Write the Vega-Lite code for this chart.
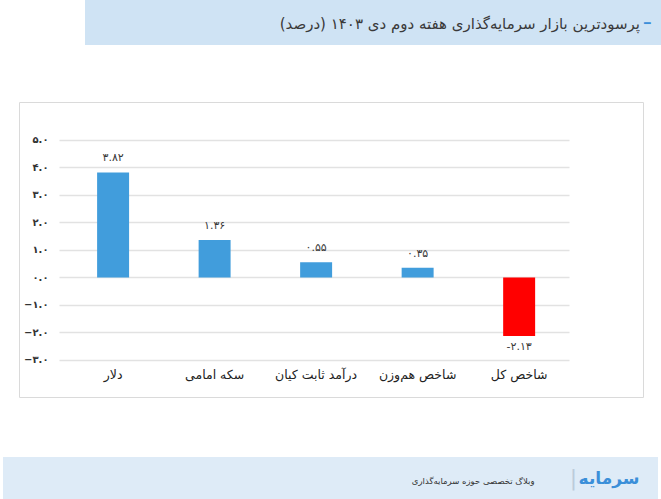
{
  "$schema": "https://vega.github.io/schema/vega-lite/v6.json",
  "padding": 0,
  "spacing": 0,
  "background": "white",
  "config": {
    "view": {"stroke": null},
    "font": "DejaVu Sans",
    "concat": {"spacing": 0}
  },
  "vconcat": [
    {
      "spacing": 0,
      "hconcat": [
        {
          "width": 85, "height": 45,
          "data": {"values": [{}]},
          "mark": {"type": "point", "size": 0, "strokeWidth": 0, "opacity": 0}
        },
        {
          "width": 576, "height": 45,
          "view": {"fill": "#cfe3f4", "stroke": null},
          "data": {"values": [{}]},
          "layer": [
            {
              "mark": {"type": "text", "text": "پرسودترین بازار سرمایه‌گذاری هفته دوم دی ۱۴۰۳ (درصد)", "align": "right", "baseline": "middle", "dx": 267, "dy": 1, "fontSize": 15, "color": "#3a3a3a"}
            },
            {
              "mark": {"type": "text", "text": "━", "align": "left", "baseline": "middle", "dx": 271, "dy": 1, "fontSize": 11, "color": "#3b8fd9"}
            }
          ]
        }
      ]
    },
    {
      "width": 10, "height": 56,
      "data": {"values": [{}]},
      "mark": {"type": "point", "size": 0, "strokeWidth": 0, "opacity": 0}
    },
    {
      "spacing": 0,
      "hconcat": [
        {
          "width": 18, "height": 295,
          "data": {"values": [{}]},
          "mark": {"type": "point", "size": 0, "strokeWidth": 0, "opacity": 0}
        },
        {
          "width": 624, "height": 295,
          "view": {"fill": "white", "stroke": "#dadada", "strokeWidth": 1},
          "data": {
            "values": [
              {"name": "دلار", "value": 3.82, "label": "۳.۸۲"},
              {"name": "سکه امامی", "value": 1.36, "label": "۱.۳۶"},
              {"name": "درآمد ثابت کیان", "value": 0.55, "label": "۰.۵۵"},
              {"name": "شاخص هم‌وزن", "value": 0.35, "label": "۰.۳۵"},
              {"name": "شاخص کل", "value": -2.13, "label": "-۲.۱۳"}
            ]
          },
          "encoding": {
            "x": {
              "field": "name", "type": "nominal", "sort": null,
              "scale": {"paddingInner": 0.685, "paddingOuter": 0.916, "align": 0.42},
              "axis": {"orient": "bottom", "offset": -23, "domain": false, "ticks": false, "labelPadding": 0, "labelBaseline": "middle", "labelAngle": 0, "labelFontSize": 12.5, "labelColor": "#222222", "labelLimit": 0, "title": null}
            },
            "y": {
              "field": "value", "type": "quantitative",
              "scale": {"domain": [-4.35, 6.38], "nice": false},
              "axis": {
                "values": [-3, -2, -1, 0, 1, 2, 3, 4, 5],
                "orient": "left", "offset": -40, "domain": false, "grid": false,
                "ticks": true, "tickSize": -510, "tickColor": "#e2e2e2", "tickWidth": 1.5,
                "labelPadding": 521, "title": null,
                "labelFontSize": 10, "labelFontWeight": "bold", "labelColor": "#333333",
                "labelExpr": "replace(replace(replace(replace(replace(replace(replace(replace(replace(replace(format(datum.value,'.1f'),regexp('0','g'),'۰'),'1','۱'),'2','۲'),'3','۳'),'4','۴'),'5','۵'),'6','۶'),'7','۷'),'8','۸'),'9','۹')"
              }
            }
          },
          "layer": [
            {
              "mark": {"type": "bar"},
              "encoding": {
                "y2": {"datum": 0},
                "color": {"condition": {"test": "datum.value < 0", "value": "#ff0000"}, "value": "#419ddc"}
              }
            },
            {
              "transform": [{"filter": "datum.value >= 0"}],
              "mark": {"type": "text", "baseline": "middle", "dy": -14, "fontSize": 11, "color": "#3a3a3a"},
              "encoding": {"text": {"field": "label"}}
            },
            {
              "transform": [{"filter": "datum.value < 0"}],
              "mark": {"type": "text", "baseline": "middle", "dy": 11, "fontSize": 11, "color": "#3a3a3a"},
              "encoding": {"text": {"field": "label"}}
            }
          ]
        }
      ]
    },
    {
      "width": 10, "height": 59,
      "data": {"values": [{}]},
      "mark": {"type": "point", "size": 0, "strokeWidth": 0, "opacity": 0}
    },
    {
      "spacing": 0,
      "hconcat": [
        {
          "width": 3, "height": 42,
          "data": {"values": [{}]},
          "mark": {"type": "point", "size": 0, "strokeWidth": 0, "opacity": 0}
        },
        {
          "width": 655, "height": 42,
          "view": {"fill": "#deebf7", "stroke": null},
          "data": {"values": [{}]},
          "layer": [
            {
              "mark": {"type": "text", "text": "سرمایه", "align": "right", "baseline": "middle", "dx": 309, "dy": 1, "fontSize": 17, "fontWeight": "bold", "color": "#3b8fd9"}
            },
            {
              "mark": {"type": "text", "text": "|", "align": "center", "baseline": "middle", "dx": 243, "dy": 0, "fontSize": 22, "color": "#bccbdb"}
            },
            {
              "mark": {"type": "text", "text": "وبلاگ تخصصی حوزه سرمایه‌گذاری", "align": "right", "baseline": "middle", "dx": 204, "dy": 3, "fontSize": 8.5, "color": "#333333"}
            }
          ]
        }
      ]
    }
  ]
}
